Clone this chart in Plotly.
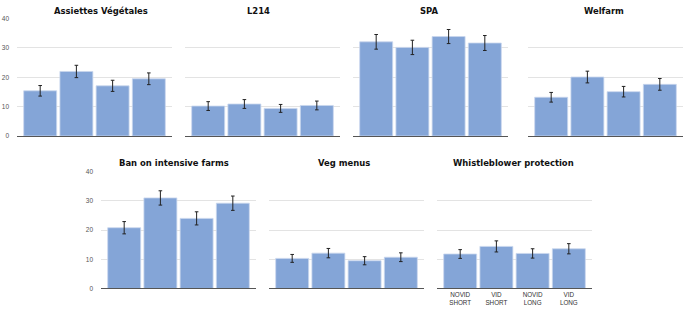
import plotly.graph_objects as go

W, H = 685, 312

categories = ["NOVID<br>SHORT", "VID<br>SHORT", "NOVID<br>LONG", "VID<br>LONG"]
panel_titles = ["Assiettes Végétales", "L214", "SPA", "Welfarm",
                "Ban on intensive farms", "Veg menus", "Whistleblower protection"]

assiettes = [15.4, 22.0, 17.1, 19.5]
assiettes_err = [1.8, 2.1, 1.9, 2.0]
l214 = [10.2, 10.9, 9.4, 10.4]
l214_err = [1.5, 1.5, 1.35, 1.5]
spa = [32.1, 30.2, 33.9, 31.7]
spa_err = [2.5, 2.45, 2.4, 2.55]
welfarm = [13.2, 20.1, 15.1, 17.6]
welfarm_err = [1.65, 2.0, 1.8, 2.0]
ban = [20.8, 31.0, 24.0, 29.2]
ban_err = [2.1, 2.45, 2.25, 2.45]
veg = [10.3, 12.1, 9.5, 10.7]
veg_err = [1.35, 1.6, 1.4, 1.5]
whistle = [11.8, 14.4, 12.0, 13.6]
whistle_err = [1.5, 1.9, 1.6, 1.75]

y_ticks = [0, 10, 20, 30, 40]

series = [(assiettes, assiettes_err), (l214, l214_err), (spa, spa_err), (welfarm, welfarm_err),
          (ban, ban_err), (veg, veg_err), (whistle, whistle_err)]

# pixel layout of each panel: (x0, x1, ytop(40), ybottom(0), title centre x, title centre y)
panels = [
    (17, 172, 15, 135, 101, 7), (185, 340, 15, 135, 258, 7),
    (353, 508, 15, 135, 429, 7), (528, 683, 15, 135, 604, 7),
    (101, 256, 171.5, 291, 174, 162), (269, 424, 171.5, 291, 344, 162),
    (437, 592, 171.5, 291, 513, 162),
]

BAR = "#84a5d7"
TICKFONT = "Liberation Sans, Arial, sans-serif"
fig = go.Figure()
layout = dict(
    width=W, height=H, margin=dict(l=0, r=0, t=0, b=0, pad=0),
    paper_bgcolor="white", plot_bgcolor="white", showlegend=False,
    bargap=0.09, annotations=[],
    font=dict(family=TICKFONT, size=7, color="#444"),
)
for i, ((vals, errs), (x0, x1, yt, yb, tx, ty)) in enumerate(zip(series, panels)):
    n = i + 1
    xa = "x" if n == 1 else f"x{n}"
    ya = "y" if n == 1 else f"y{n}"
    fig.add_trace(go.Bar(
        x=categories, y=vals, xaxis=xa, yaxis=ya,
        marker=dict(color=BAR, line=dict(color="#c9d7ee", width=0.8)),
        error_y=dict(type="data", array=errs, visible=True, color="#222", thickness=1, width=1.8),
        hoverinfo="skip",
    ))
    show_y = n in (1, 5)
    show_x = n == 7
    layout[f"xaxis{'' if n == 1 else n}"] = dict(
        domain=[x0 / W, x1 / W], anchor=ya, type="category",
        range=[-0.64, 3.64], showgrid=False, zeroline=False,
        showline=True, linecolor="#555", linewidth=1.3,
        showticklabels=show_x, ticks="", fixedrange=True,
        tickfont=dict(size=6.3, color="#333", family=TICKFONT),
    )
    layout[f"yaxis{'' if n == 1 else n}"] = dict(
        domain=[(H - yb) / H, (H - yt) / H], anchor=xa,
        range=[0, 40], tickvals=y_ticks, showgrid=True, gridcolor="#e3e3e3", gridwidth=1,
        zeroline=False, showline=False, showticklabels=show_y, ticks="",
        ticklabelstandoff=7, fixedrange=True,
        tickfont=dict(size=6.5, color="#555", family=TICKFONT),
    )
    layout["annotations"].append(dict(
        text=f"<b>{panel_titles[i]}</b>", xref="paper", yref="paper",
        x=tx / W, y=(H - ty) / H, xanchor="center", yanchor="middle",
        showarrow=False,
        font=dict(family="DejaVu Sans Condensed, DejaVu Sans, sans-serif",
                  size=9.4, color="#111"),
    ))

fig.update_layout(**layout)
fig.write_html("out.html", config={"displayModeBar": False},
               post_script="document.body.style.margin='0';")
